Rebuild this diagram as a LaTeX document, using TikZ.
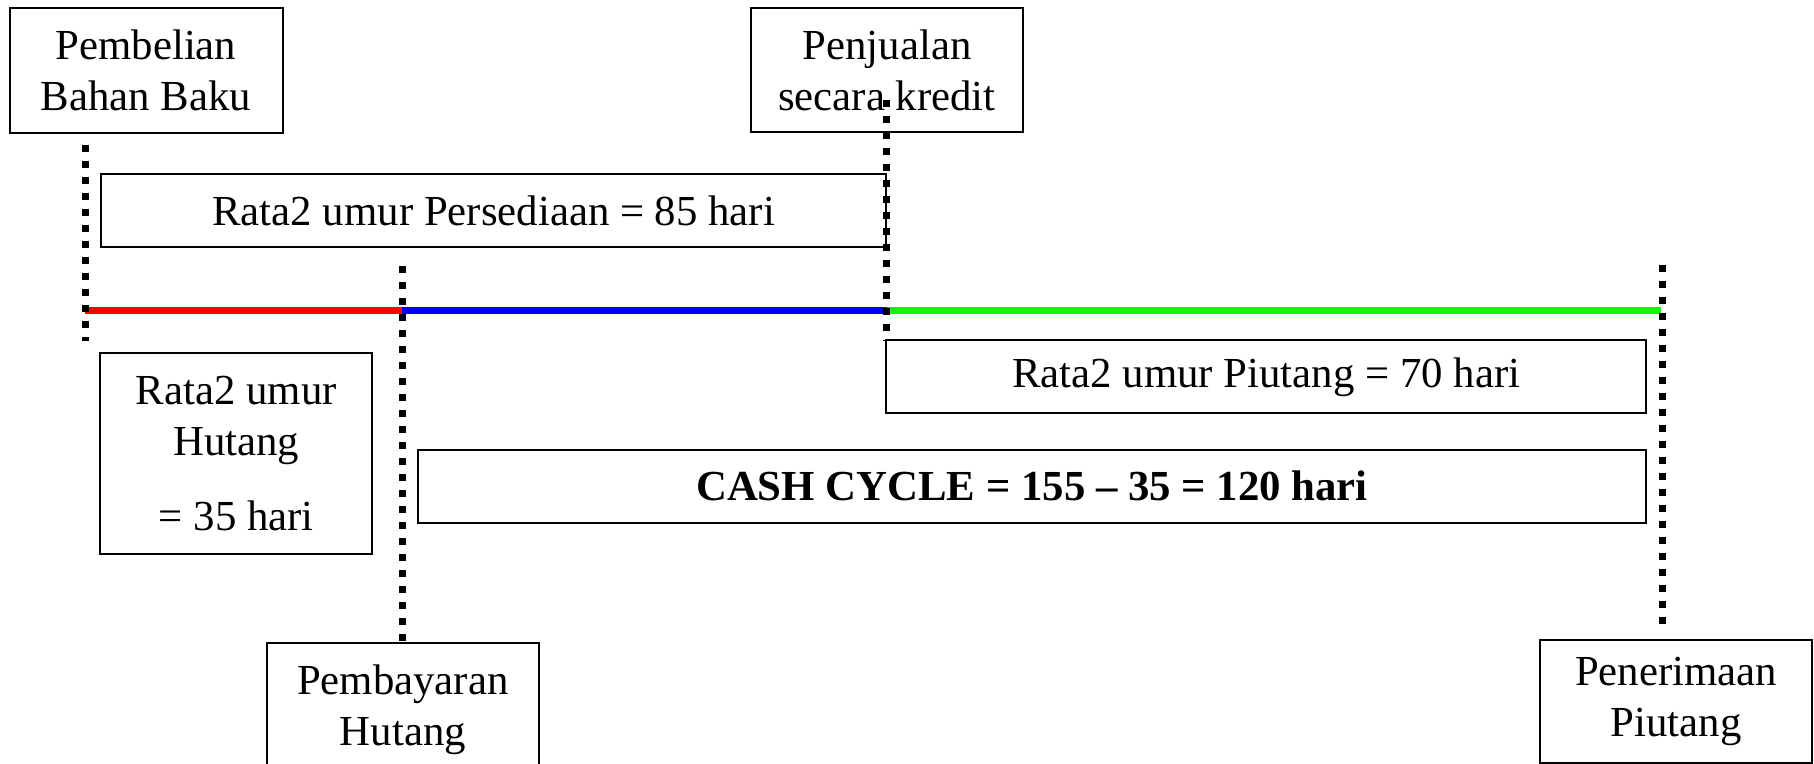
\documentclass[tikz,border=0pt]{standalone}
\usepackage{fontspec}
\setmainfont{Liberation Serif}
\usepackage{tikz}
\usetikzlibrary{positioning}

\begin{document}
\begin{tikzpicture}[x=0.5pt,y=-0.5pt,
				box node/.style={rectangle,draw,line width=1pt,inner sep=0pt,
					align=center,font=\fontsize{21.4}{25.5}\selectfont},
				time line/.style={line width=3.5pt},
				dot line/.style={line width=3.5pt,dash pattern=on 3.6pt off 4.4pt}]
				\useasboundingbox (0,0) rectangle (1814,764);
				
				\node[box node,minimum width=136.5pt,minimum height=62.5pt] (beli) at (146,70.5) {Pembelian\\Bahan Baku};
				\node[box node,minimum width=136pt,minimum height=62pt] (jual) at (887,70) {Penjualan\\secara kredit};
				\node[box node,minimum width=392.75pt,minimum height=36.5pt] (sedia) at (493.7,210.5) {Rata2 umur Persediaan = 85 hari};
				\node[box node,minimum width=136.2pt,minimum height=100.5pt] (hutang) at (236.2,453.3) {Rata2 umur\\Hutang\\[12pt]= 35 hari};
				\node[box node,minimum width=380pt,minimum height=36.5pt] (piutang) at (1266.2,377) {Rata2 umur Piutang = 70 hari};
				\node[box node,minimum width=614pt,minimum height=36.5pt] (cash) at (1032,486) {\textbf{CASH CYCLE = 155 – 35 = 120 hari}};
				\node[box node,minimum width=136.2pt,minimum height=66.5pt] (bayar) at (402.8,709.8) {Pembayaran\\Hutang};
				\node[box node,minimum width=136pt,minimum height=61.5pt] (terima) at (1676,701.5) {Penerimaan\\Piutang};
				
				\coordinate (t0) at (85,311);
				\coordinate (t1) at (402,311);
				\coordinate (t2) at (886.5,311);
				\coordinate (t3) at (1661,311);
				\draw[time line,red] (t0) -- (t1);
				\draw[time line,blue] (t1) -- (t2);
				\draw[time line,green] (t2) -- (t3);
				
				\coordinate (a1) at (85,145);
				\coordinate (a2) at (85,341);
				\coordinate (b1) at (402,266);
				\coordinate (b2) at (402,642);
				\coordinate (c1) at (886.5,100);
				\coordinate (c2) at (886.5,341);
				\coordinate (d1) at (1662,265);
				\coordinate (d2) at (1662,626);
				\path[dot line]
				(a1) edge (a2)
				(b1) edge (b2)
				(c1) edge (c2)
				(d1) edge (d2);
			\end{tikzpicture}
\end{document}
